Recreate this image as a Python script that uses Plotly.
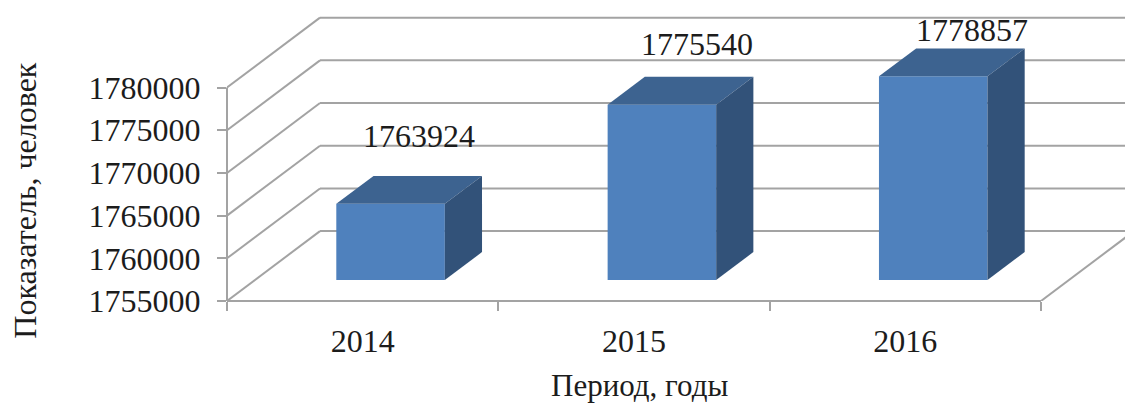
import plotly.graph_objects as go

# --- data ---
periods = ["2014", "2015", "2016"]
population = [1763924, 1775540, 1778857]
y_ticks = [1755000, 1760000, 1765000, 1770000, 1775000, 1780000]
y_axis_title = "Показатель, человек"
x_axis_title = "Период, годы"

# --- layout constants (pixels of the 1125x404 frame) ---
W, H = 1125, 404
PLOT_L, PLOT_B = 227, 301.5
PX_PER_CAT = 271.33
PX_PER_UNIT = 213.8 / 25000
DEPTH_X = 93 / PX_PER_CAT          # wall depth in x-axis units
DEPTH_Y = 70 / PX_PER_UNIT         # wall depth in y-axis units
Z_FRONT, Z_BACK = 0.3, 0.7         # bar depth inside the floor
BAR_WIDTH = 0.4
BASE = y_ticks[0]

FONT = "Liberation Serif"
TXT = "#1c1c1c"
GRID = "#a3a3a3"
LINE_W = 2
C_FRONT, C_TOP, C_SIDE = "#4f81bd", "#3d6390", "#325279"

x_max = (W - PLOT_L) / PX_PER_CAT
y_max = BASE + PLOT_B / PX_PER_UNIT


def proj(x, v, z):
    """Oblique projection of (category position, value, depth) on the axes."""
    return x + z * DEPTH_X, v + z * DEPTH_Y


fig = go.Figure()

# Front faces
centers = [i + 0.5 for i in range(len(periods))]
fig.add_trace(go.Bar(
    x=[proj(c, BASE, Z_FRONT)[0] for c in centers],
    y=[v - BASE for v in population],
    base=[proj(0, BASE, Z_FRONT)[1]] * len(periods),
    width=BAR_WIDTH,
    marker=dict(color=C_FRONT, line=dict(width=0)),
    showlegend=False, hoverinfo="skip",
))

# Top and side faces
for c, v in zip(centers, population):
    l, r = c - BAR_WIDTH / 2, c + BAR_WIDTH / 2
    top = [proj(l, v, Z_FRONT), proj(r, v, Z_FRONT), proj(r, v, Z_BACK), proj(l, v, Z_BACK)]
    side = [proj(r, BASE, Z_FRONT), proj(r, BASE, Z_BACK), proj(r, v, Z_BACK), proj(r, v, Z_FRONT)]
    for pts, col in ((top, C_TOP), (side, C_SIDE)):
        fig.add_trace(go.Scatter(
            x=[p[0] for p in pts] + [pts[0][0]],
            y=[p[1] for p in pts] + [pts[0][1]],
            mode="lines", fill="toself", fillcolor=col,
            line=dict(width=0, color=col),
            showlegend=False, hoverinfo="skip",
        ))

# Walls and floor behind the bars
shapes = []
line = dict(color=GRID, width=LINE_W)
for t in y_ticks:
    x0, y0 = proj(0, t, 0)
    x1, y1 = proj(0, t, 1)
    x2, y2 = proj(len(periods), t, 1)
    shapes.append(dict(type="line", xref="x", yref="y", x0=x0, y0=y0, x1=x1, y1=y1, line=line, layer="below"))
    shapes.append(dict(type="line", xref="x", yref="y", x0=x1, y0=y1, x1=x2, y1=y2, line=line, layer="below"))
xf0, yf0 = proj(len(periods), BASE, 0)
xf1, yf1 = proj(len(periods), BASE, 1)
shapes.append(dict(type="line", xref="x", yref="y", x0=xf0, y0=yf0, x1=xf1, y1=yf1, line=line, layer="below"))
# Axis lines: only as long as the tick range / the category range
shapes.append(dict(type="line", xref="paper", yref="y", x0=0, x1=0,
                   y0=y_ticks[0], y1=y_ticks[-1], line=line, layer="below"))
shapes.append(dict(type="line", xref="x", yref="paper", x0=0, x1=len(periods),
                   y0=0, y1=0, line=line, layer="below"))

# Value labels (pixel nudges from the top-back edge of each bar)
label_dx = [28, 35.5, 39]
label_dy = [40, 33, 18]
annotations = []
for c, v, dx, dy, in zip(centers, population, label_dx, label_dy):
    ax, ay = proj(c, v, Z_BACK)
    annotations.append(dict(
        x=c + Z_FRONT * DEPTH_X, y=ay, xref="x", yref="y", text=str(v), showarrow=False,
        xshift=dx, yshift=dy, xanchor="center", yanchor="middle",
        font=dict(family=FONT, size=32, color=TXT),
    ))

# Axis titles, at their off-centre places in the reference
annotations.append(dict(
    text=y_axis_title, xref="paper", yref="paper", showarrow=False, textangle=-90,
    x=(25 - PLOT_L) / (W - PLOT_L), y=(PLOT_B - 201) / PLOT_B,
    xanchor="center", yanchor="middle", font=dict(family=FONT, size=32, color=TXT),
))
annotations.append(dict(
    text=x_axis_title, xref="paper", yref="paper", showarrow=False,
    x=(639 - PLOT_L) / (W - PLOT_L), y=(PLOT_B - 386.5) / PLOT_B,
    xanchor="center", yanchor="middle", font=dict(family=FONT, size=31, color=TXT),
))

fig.update_layout(
    width=W, height=H,
    margin=dict(l=PLOT_L, r=0, t=0, b=H - PLOT_B, pad=0),
    paper_bgcolor="white", plot_bgcolor="white",
    font=dict(family=FONT, size=32, color=TXT),
    shapes=shapes, annotations=annotations,
    xaxis=dict(
        range=[0, x_max], tickmode="array",
        tickvals=centers, ticktext=periods, ticks="",
        ticklabelstandoff=18,
        minor=dict(tickmode="array", tickvals=list(range(len(periods) + 1)),
                   ticks="outside", ticklen=9, tickcolor=GRID, tickwidth=LINE_W),
        showgrid=False, zeroline=False, showline=False,
    ),
    yaxis=dict(
        range=[BASE, y_max], tickmode="array",
        tickvals=y_ticks, ticktext=[str(t) for t in y_ticks],
        ticks="outside", ticklen=9, tickcolor=GRID, tickwidth=LINE_W,
        ticklabelstandoff=10,
        showgrid=False, zeroline=False, showline=False,
    ),
)

fig.write_html("out.html", config={"displayModeBar": False},
               post_script="document.body.style.margin='0';document.documentElement.style.overflow='hidden';")
